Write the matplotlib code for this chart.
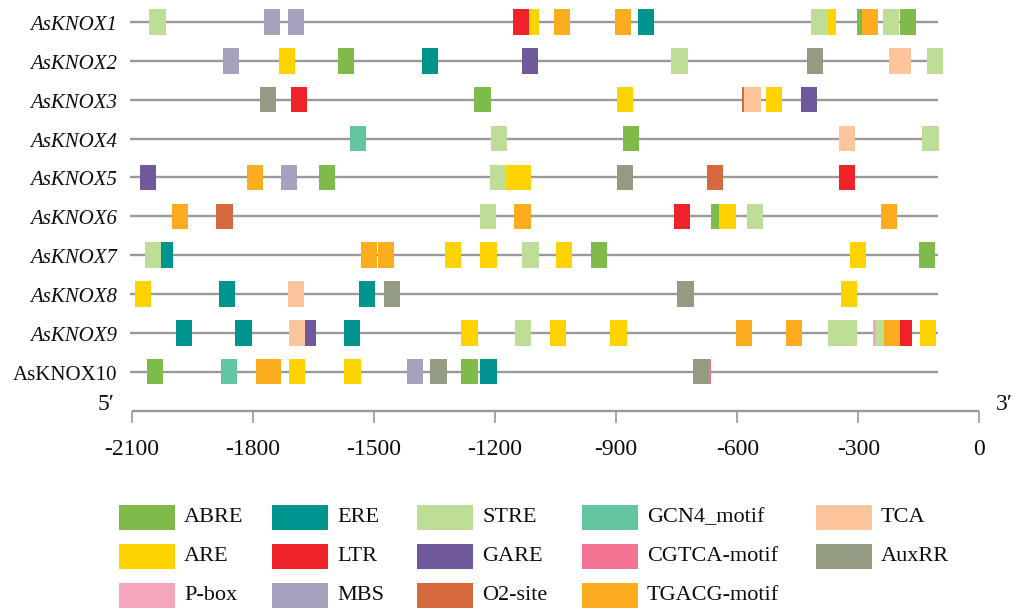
import matplotlib
matplotlib.use("Agg")
import matplotlib.pyplot as plt
from matplotlib.patches import Rectangle

plt.rcParams['font.family'] = ['Liberation Serif', 'DejaVu Serif']

# ---------------- data ----------------
genes = ["AsKNOX1", "AsKNOX2", "AsKNOX3", "AsKNOX4", "AsKNOX5",
         "AsKNOX6", "AsKNOX7", "AsKNOX8", "AsKNOX9", "AsKNOX10"]
italic_genes = [True] * 9 + [False]

line_start = -2105
line_end = -103

knox1_elems = ["STRE", "MBS", "MBS", "ARE", "LTR", "TGACG-motif", "TGACG-motif", "ERE",
               "ARE", "STRE", "ABRE", "TGACG-motif", "STRE", "ABRE"]
knox1_pos = [-2036, -1753, -1693, -1110, -1136, -1035, -882, -825,
             -376, -396, -283, -270, -220, -176]

knox2_elems = ["MBS", "ARE", "ABRE", "ERE", "GARE", "STRE", "AuxRR", "TCA", "TCA", "STRE"]
knox2_pos = [-1855, -1716, -1570, -1362, -1113, -743, -408, -204, -189, -111]

knox3_elems = ["AuxRR", "LTR", "ABRE", "ARE", "O2-site", "TCA", "ARE", "GARE"]
knox3_pos = [-1763, -1686, -1231, -879, -568, -562, -508, -423]

knox4_elems = ["GCN4_motif", "STRE", "ABRE", "TCA", "STRE"]
knox4_pos = [-1540, -1191, -863, -329, -121]

knox5_elems = ["GARE", "TGACG-motif", "MBS", "ABRE", "STRE", "ARE", "ARE", "AuxRR", "O2-site", "LTR"]
knox5_pos = [-2060, -1795, -1711, -1617, -1192, -1152, -1131, -877, -656, -329]

knox6_elems = ["TGACG-motif", "O2-site", "STRE", "TGACG-motif", "LTR", "ABRE", "ARE", "STRE", "TGACG-motif"]
knox6_pos = [-1981, -1870, -1217, -1132, -736, -645, -624, -555, -223]

knox7_elems = ["ERE", "STRE", "TGACG-motif", "TGACG-motif", "ARE", "ARE", "STRE", "ARE", "ABRE", "ARE", "ABRE"]
knox7_pos = [-2017, -2048, -1512, -1469, -1305, -1216, -1112, -1030, -942, -300, -129]

knox8_elems = ["ARE", "ERE", "TCA", "ERE", "AuxRR", "AuxRR", "ARE"]
knox8_pos = [-2072, -1864, -1694, -1518, -1455, -728, -323]

knox9_elems = ["ERE", "ERE", "GARE", "TCA", "ERE", "ARE", "STRE", "ARE", "ARE", "TGACG-motif",
               "TGACG-motif", "STRE", "STRE", "P-box", "STRE", "LTR", "TGACG-motif", "ARE"]
knox9_pos = [-1971, -1823, -1664, -1691, -1555, -1263, -1130, -1043, -894, -584,
             -459, -354, -324, -243, -237, -188, -217, -128]

knox10_elems = ["ABRE", "GCN4_motif", "TGACG-motif", "TGACG-motif", "ARE", "ARE", "MBS",
                "AuxRR", "ABRE", "ERE", "CGTCA-motif", "AuxRR"]
knox10_pos = [-2043, -1860, -1773, -1751, -1691, -1553, -1399,
              -1340, -1263, -1216, -685, -690]

gene_elems = [knox1_elems, knox2_elems, knox3_elems, knox4_elems, knox5_elems,
              knox6_elems, knox7_elems, knox8_elems, knox9_elems, knox10_elems]
gene_pos = [knox1_pos, knox2_pos, knox3_pos, knox4_pos, knox5_pos,
            knox6_pos, knox7_pos, knox8_pos, knox9_pos, knox10_pos]

legend_order = ["ABRE", "ERE", "STRE", "GCN4_motif", "TCA",
                "ARE", "LTR", "GARE", "CGTCA-motif", "AuxRR",
                "P-box", "MBS", "O2-site", "TGACG-motif"]

element_colors = {
    "ABRE": "#7FBB4B", "ERE": "#00948F", "STRE": "#BEDD96", "GCN4_motif": "#63C59F",
    "TCA": "#FDC59C", "ARE": "#FFD300", "LTR": "#EE2229", "GARE": "#70599B",
    "CGTCA-motif": "#F47393", "AuxRR": "#939B82", "P-box": "#F4A6BA",
    "MBS": "#A5A2BE", "O2-site": "#D6693D", "TGACG-motif": "#FBAD1F",
}

tick_values = [-2100, -1800, -1500, -1200, -900, -600, -300, 0]

# ---------------- layout ----------------
W, H = 1016, 609
PX_PER_BP = 0.40367
X_ZERO = 979.4
ROW_TOP = 22.0
ROW_STEP = 38.85
BOX_W = 40
BOX_H = 25.5 / ROW_STEP
LINE_COLOR = "#999999"
TXT = "#0d0d0d"

fig = plt.figure(figsize=(W / 100, H / 100), dpi=100)
ax = fig.add_axes([0, 0, 1, 1])
ax.set_xlim(-X_ZERO / PX_PER_BP, (W - X_ZERO) / PX_PER_BP)
ax.set_ylim((H - ROW_TOP) / ROW_STEP, -ROW_TOP / ROW_STEP)
ax.axis("off")

def row_of_px(py):
    return (py - ROW_TOP) / ROW_STEP

def bp_of_px(px):
    return (px - X_ZERO) / PX_PER_BP

for i, gene in enumerate(genes):
    ax.hlines(i, line_start, line_end, color=LINE_COLOR, lw=1.7, zorder=1)
    for el, p in zip(gene_elems[i], gene_pos[i]):
        ax.add_patch(Rectangle((p - BOX_W / 2, i - BOX_H / 2), BOX_W, BOX_H,
                               facecolor=element_colors[el], edgecolor="none",
                               lw=0, zorder=2))
    ax.text(bp_of_px(117), i + 8 / ROW_STEP, gene, ha="right", va="baseline",
            fontsize=15, style="italic" if italic_genes[i] else "normal", color=TXT)

# position scale
axis_y = row_of_px(411)
ax.hlines(axis_y, tick_values[0], tick_values[-1], color=LINE_COLOR, lw=1.7)
ax.vlines(tick_values, axis_y, axis_y + 12 / ROW_STEP, color=LINE_COLOR, lw=1.2)
for t in tick_values:
    ax.text(t, row_of_px(455), f"{t}", ha="center", va="baseline", fontsize=17,
            color=TXT)
ax.text(bp_of_px(106), row_of_px(410), "5\u2032", ha="center", va="baseline",
        fontsize=17, color=TXT)
ax.text(bp_of_px(1004), row_of_px(410), "3\u2032", ha="center", va="baseline",
        fontsize=17, color=TXT)

# legend (pixel layout overlay)
lax = fig.add_axes([0, 0, 1, 1])
lax.set_xlim(0, W)
lax.set_ylim(H, 0)
lax.axis("off")
col_left = [119, 272, 417, 582, 816]
row_center = [517.5, 556, 595]
for k, el in enumerate(legend_order):
    r, c = divmod(k, 5)
    lax.add_patch(Rectangle((col_left[c], row_center[r] - 12.5), 56, 25,
                            facecolor=element_colors[el], edgecolor="none"))
    lax.text(col_left[c] + 65, row_center[r] + 5, el, ha="left", va="baseline",
             fontsize=16, color=TXT)

fig.savefig("out.png", dpi=100)
